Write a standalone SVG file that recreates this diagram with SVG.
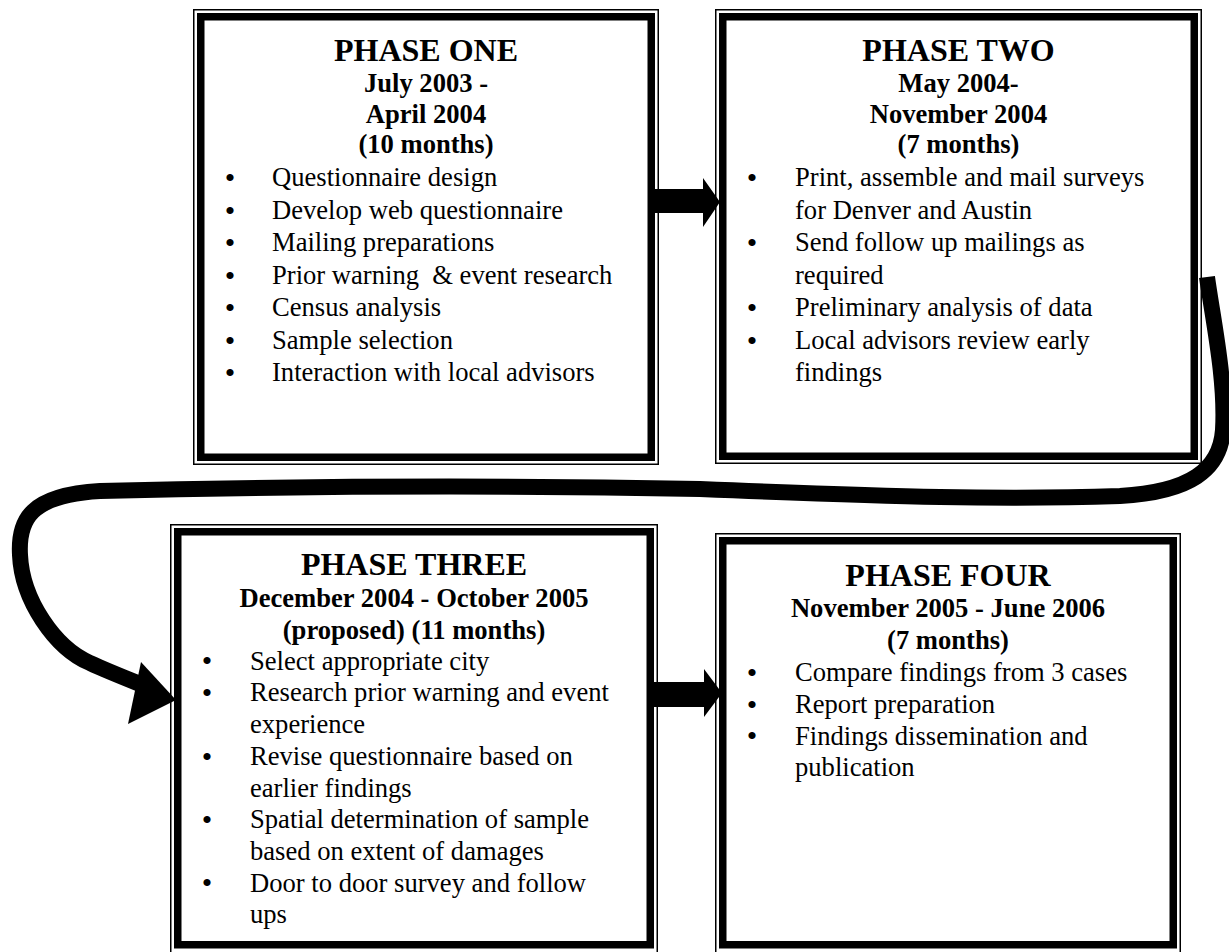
<svg xmlns="http://www.w3.org/2000/svg" width="1229" height="952" viewBox="0 0 1229 952">
<style>
.thin{fill:#fff;stroke:#000;stroke-width:1.5}
.thick{fill:none;stroke:#000;stroke-width:7.5}
text{font-family:"Liberation Serif","Times New Roman",serif;fill:#000}
.h{font-size:32px;font-weight:bold;text-anchor:middle}
.d{font-size:26.6px;font-weight:bold;text-anchor:middle}
.b{font-size:26.6px}
.dot{font-size:30px;text-anchor:middle}
.conn{fill:none;stroke:#000;stroke-width:16}
</style>
<rect width="1229" height="952" fill="#fff"/>
<g id="phase1">
<rect class="thin" x="193.75" y="9.75" width="464.5" height="454.5"/>
<rect class="thick" x="200.75" y="16.75" width="450.5" height="440.5"/>
<text class="h" x="426" y="61">PHASE ONE</text>
<text class="d" x="426" y="92">July 2003 -</text>
<text class="d" x="426" y="122.5">April 2004</text>
<text class="d" x="426" y="153">(10 months)</text>
<text class="dot" x="230" y="188">•</text><text class="b" x="272" y="186.3">Questionnaire design</text>
<text class="dot" x="230" y="220.5">•</text><text class="b" x="272" y="218.8">Develop web questionnaire</text>
<text class="dot" x="230" y="253">•</text><text class="b" x="272" y="251.3">Mailing preparations</text>
<text class="dot" x="230" y="285.5">•</text><text class="b" x="272" y="283.8" xml:space="preserve">Prior warning  &amp; event research</text>
<text class="dot" x="230" y="318">•</text><text class="b" x="272" y="316.3">Census analysis</text>
<text class="dot" x="230" y="350.5">•</text><text class="b" x="272" y="348.8">Sample selection</text>
<text class="dot" x="230" y="383">•</text><text class="b" x="272" y="381.3">Interaction with local advisors</text>
</g>
<g id="phase2">
<rect class="thin" x="715.75" y="9.75" width="485.5" height="453.5"/>
<rect class="thick" x="722.75" y="16.75" width="471.5" height="439.5"/>
<text class="h" x="958.5" y="61">PHASE TWO</text>
<text class="d" x="958.5" y="92">May 2004-</text>
<text class="d" x="958.5" y="122.5">November 2004</text>
<text class="d" x="958.5" y="153">(7 months)</text>
<text class="dot" x="752" y="188">•</text><text class="b" x="795" y="186.3">Print, assemble and mail surveys</text>
<text class="b" x="795" y="218.8">for Denver and Austin</text>
<text class="dot" x="752" y="253">•</text><text class="b" x="795" y="251.3">Send follow up mailings as</text>
<text class="b" x="795" y="283.8">required</text>
<text class="dot" x="752" y="318">•</text><text class="b" x="795" y="316.3">Preliminary analysis of data</text>
<text class="dot" x="752" y="350.5">•</text><text class="b" x="795" y="348.8">Local advisors review early</text>
<text class="b" x="795" y="381.3">findings</text>
</g>
<g id="phase3">
<rect class="thin" x="170.75" y="524.75" width="486.5" height="440"/>
<rect class="thick" x="177.75" y="531.75" width="472.5" height="413"/>
<text class="h" x="414" y="575">PHASE THREE</text>
<text class="d" x="414" y="607">December 2004 - October 2005</text>
<text class="d" x="414" y="638.5">(proposed) (11 months)</text>
<text class="dot" x="207" y="671.4">•</text><text class="b" x="250" y="669.7">Select appropriate city</text>
<text class="dot" x="207" y="703.1">•</text><text class="b" x="250" y="701.4">Research prior warning and event</text>
<text class="b" x="250" y="733.1">experience</text>
<text class="dot" x="207" y="766.5">•</text><text class="b" x="250" y="764.8">Revise questionnaire based on</text>
<text class="b" x="250" y="796.5">earlier findings</text>
<text class="dot" x="207" y="829.9">•</text><text class="b" x="250" y="828.2">Spatial determination of sample</text>
<text class="b" x="250" y="859.9">based on extent of damages</text>
<text class="dot" x="207" y="893.3">•</text><text class="b" x="250" y="891.6">Door to door survey and follow</text>
<text class="b" x="250" y="923.3">ups</text>
</g>
<g id="phase4">
<rect class="thin" x="715.75" y="533.75" width="464.5" height="430"/>
<rect class="thick" x="722.75" y="540.75" width="450.5" height="404"/>
<text class="h" x="948" y="585.7">PHASE FOUR</text>
<text class="d" x="948" y="617">November 2005 - June 2006</text>
<text class="d" x="948" y="649">(7 months)</text>
<text class="dot" x="752" y="683">•</text><text class="b" x="795" y="681.3">Compare findings from 3 cases</text>
<text class="dot" x="752" y="714.7">•</text><text class="b" x="795" y="713">Report preparation</text>
<text class="dot" x="752" y="746.4">•</text><text class="b" x="795" y="744.7">Findings dissemination and</text>
<text class="b" x="795" y="776.4">publication</text>
</g>
<g id="connectors">
<polygon points="651,189 703,189 703,178 720,202 703,227 703,213 651,213"/>
<polygon points="654,682 704,682 704,669 722,693 704,717 704,707 654,707"/>
<path class="conn" d="M1207 277 C1213 320 1226 380 1223 430 C1220 470 1190 492 1120 496 C1000 500 900 497 700 489 C500 485 300 486 100 491 C30 495 18 520 20 555 C22 600 55 648 90 663 C105 670 120 676 140 684"/>
<polygon points="176,700 141,662 128,724"/>
</g>
</svg>
